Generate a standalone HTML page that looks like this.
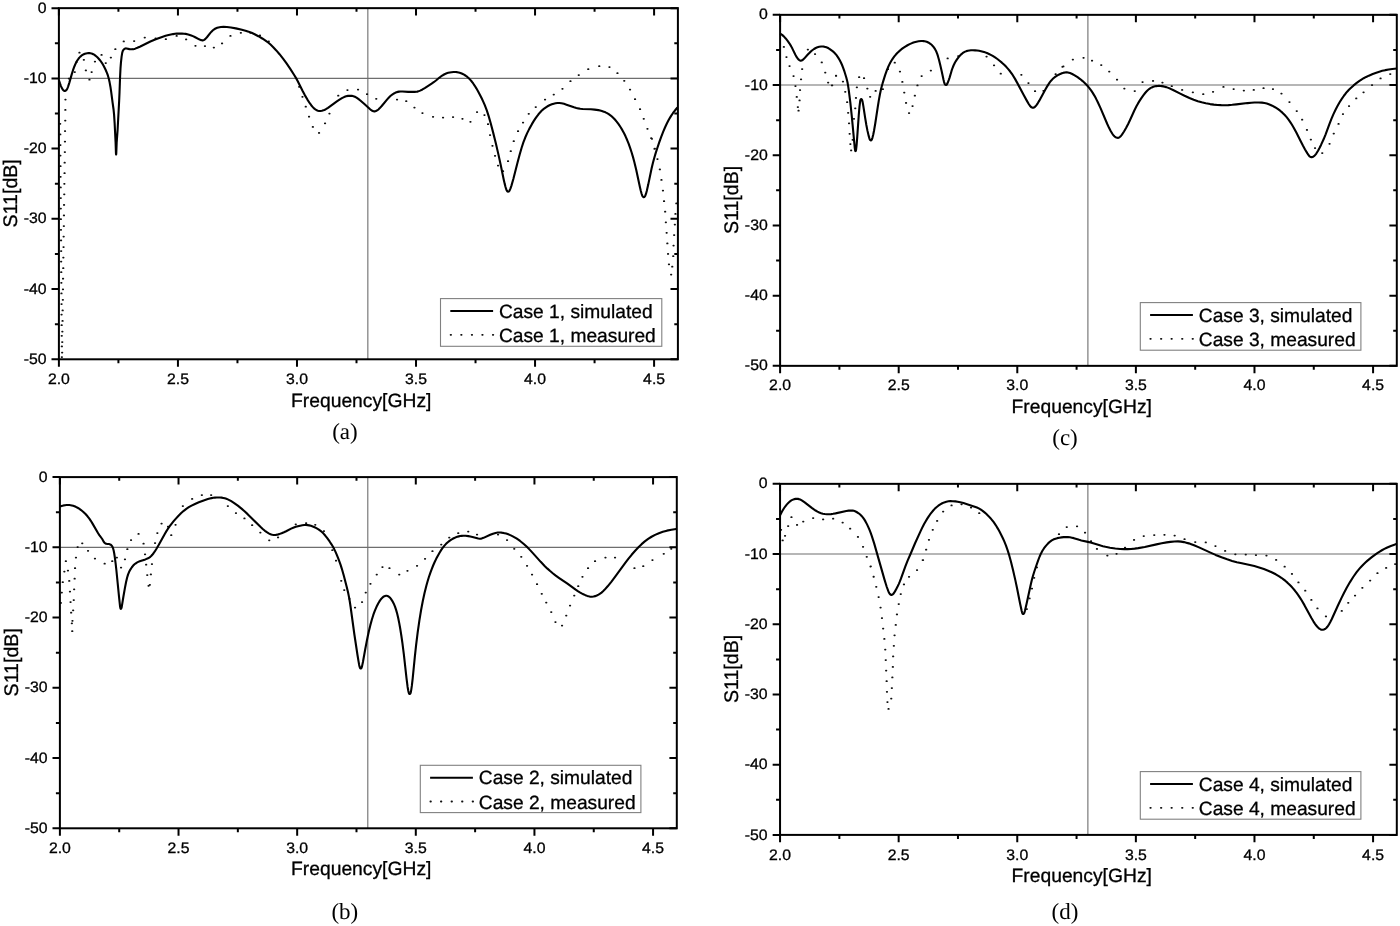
<!DOCTYPE html>
<html lang="en"><head><meta charset="utf-8"><title>S11 vs Frequency</title>
<style>html,body{margin:0;padding:0;background:#fff}svg{display:block}text{fill:#000;text-rendering:geometricPrecision}</style></head><body>
<svg width="1400" height="926" viewBox="0 0 1400 926">
<rect width="1400" height="926" fill="#fff"/>
<g id="chart-a">
<path d="M58.90 78.38H677.90M367.85 8.15V359.30" stroke="#6e6e6e" stroke-width="1.1" fill="none"/>
<path d="M58.90 8.15h-7.4M677.90 8.15h-7.4M58.90 43.27h-4.0M677.90 43.27h-3.6M58.90 78.38h-7.4M677.90 78.38h-7.4M58.90 113.50h-4.0M677.90 113.50h-3.6M58.90 148.61h-7.4M677.90 148.61h-7.4M58.90 183.73h-4.0M677.90 183.73h-3.6M58.90 218.84h-7.4M677.90 218.84h-7.4M58.90 253.96h-4.0M677.90 253.96h-3.6M58.90 289.07h-7.4M677.90 289.07h-7.4M58.90 324.19h-4.0M677.90 324.19h-3.6M58.90 359.30h-7.4M677.90 359.30h-7.4M58.90 359.30v7.4M58.90 8.15v7.4M118.42 359.30v4.0M118.42 8.15v3.6M177.94 359.30v7.4M177.94 8.15v7.4M237.46 359.30v4.0M237.46 8.15v3.6M296.98 359.30v7.4M296.98 8.15v7.4M356.50 359.30v4.0M356.50 8.15v3.6M416.02 359.30v7.4M416.02 8.15v7.4M475.53 359.30v4.0M475.53 8.15v3.6M535.05 359.30v7.4M535.05 8.15v7.4M594.57 359.30v4.0M594.57 8.15v3.6M654.09 359.30v7.4M654.09 8.15v7.4" stroke="#000" stroke-width="2" fill="none"/>
<path d="M65.2 99.6h.5M68.6 78.6h.5M74.5 72.0h.5M76.3 62.0h.5M79.2 52.7h.5M83.6 59.8h.5M85.6 70.4h.5M89.2 79.7h.5M91.4 72.0h.5M94.7 61.6h.5M101.3 54.9h.5M105.5 63.1h.5M110.6 57.6h.5M115.1 49.2h.5M123.5 41.4h.5M133.9 41.0h.5M144.5 37.6h.5M155.4 38.3h.5M165.6 39.2h.5M176.4 35.9h.5M185.9 39.4h.5M195.2 45.8h.5M204.7 46.1h.5M213.6 47.6h.5M221.8 43.4h.5M230.2 35.9h.5M240.6 32.8h.5M250.1 32.8h.5M259.7 35.4h.5M268.5 41.4h.5M298.9 86.8h.5M302.2 96.8h.5M305.5 106.7h.5M308.8 116.7h.5M312.6 126.9h.5M318.8 132.9h.5M324.8 123.3h.5M329.2 113.6h.5M338.0 95.7h.5M347.2 90.0h.5M357.8 89.5h.5M366.8 94.2h.5M376.0 98.8h.5M396.8 99.5h.5M406.0 101.2h.5M414.2 107.5h.5M422.2 113.0h.5M432.8 116.8h.5M442.8 117.5h.5M452.8 117.0h.5M462.2 118.8h.5M470.2 121.8h.5M476.8 112.0h.5M484.2 115.0h.5M487.8 124.2h.5M489.8 135.0h.5M492.2 145.8h.5M494.8 155.8h.5M497.8 165.5h.5M502.8 171.2h.5M507.8 161.2h.5M510.5 151.2h.5M513.5 141.2h.5M517.8 131.2h.5M522.8 122.5h.5M528.5 113.8h.5M535.5 107.0h.5M544.8 99.5h.5M553.5 94.5h.5M562.2 88.8h.5M570.2 81.2h.5M578.5 75.0h.5M588.0 69.2h.5M599.0 66.2h.5M609.2 67.0h.5M617.2 73.2h.5M624.0 80.8h.5M629.8 89.5h.5M634.8 99.2h.5M639.8 109.2h.5M643.5 118.8h.5M647.2 128.8h.5M651.0 138.2h.5M654.2 148.8h.5M651.7 138.8h.5M654.6 148.7h.5M657.2 159.0h.5M659.6 169.4h.5M661.2 179.9h.5M662.7 190.6h.5M663.8 201.2h.5M664.9 211.7h.5M665.6 222.3h.5M666.4 232.8h.5M667.1 243.4h.5M667.8 253.9h.5M668.7 264.3h.5M670.9 274.6h.5M672.0 266.7h.5M673.0 256.2h.5M673.3 245.6h.5M673.9 235.0h.5M674.6 224.5h.5M675.2 213.9h.5M676.1 203.4h.5M61.9 352.6h.5M62.0 342.1h.5M62.1 331.5h.5M62.3 320.9h.5M62.4 310.4h.5M62.6 299.8h.5M62.7 289.3h.5M62.8 278.7h.5M63.0 268.2h.5M63.1 257.6h.5M63.3 247.1h.5M63.4 236.5h.5M63.6 226.0h.5M63.7 215.4h.5M63.8 204.9h.5M64.0 194.3h.5M64.1 183.8h.5M64.3 173.2h.5M64.4 162.7h.5M64.6 152.1h.5M64.7 141.6h.5M64.8 131.0h.5M65.0 120.5h.5M65.1 109.9h.5M61.6 357.0h.5M61.6 346.4h.5M61.5 335.8h.5M61.4 325.2h.5M61.3 314.6h.5M61.3 304.0h.5M61.2 293.4h.5M61.1 282.8h.5M61.0 272.2h.5M60.9 261.6h.5M60.9 251.0h.5M60.8 240.4h.5M60.7 229.8h.5M60.6 219.2h.5M60.5 208.6h.5M60.5 198.0h.5M60.4 187.4h.5M60.3 176.8h.5M60.2 166.2h.5M60.1 155.6h.5M60.1 145.0h.5M60.0 134.4h.5M59.9 123.8h.5" stroke="#111" stroke-width="1.75" stroke-linecap="round" fill="none"/>
<path d="M58.86 80.00L59.98 83.42 60.96 86.05 61.85 88.07 62.68 89.48 63.49 90.38 63.96 90.71 64.46 90.90 64.97 90.95 65.30 90.88 65.78 90.66 66.20 90.30 66.69 89.67 67.09 88.96 67.60 87.84 68.17 86.33 69.22 83.09 71.64 74.63 73.00 70.23 74.36 66.47 75.80 63.17 76.64 61.58 77.57 60.04 78.49 58.73 79.37 57.64 80.35 56.64 81.41 55.73 82.56 54.94 83.79 54.27 84.90 53.82 86.05 53.48 87.23 53.25 88.23 53.16 89.43 53.16 90.42 53.27 91.40 53.48 92.34 53.79 93.25 54.20 94.11 54.70 95.10 55.39 96.19 56.27 97.37 57.35 98.50 58.49 100.44 60.77 102.04 63.07 103.74 66.01 105.61 69.77 107.03 73.08 107.95 75.72 108.82 78.80 109.61 82.32 110.37 86.45 111.15 91.59 112.63 102.89 113.52 109.23 114.06 114.40 114.63 123.18 115.59 142.36 115.96 153.29 116.03 154.30 116.11 154.60 116.21 154.10 116.28 152.99 116.70 142.06 117.57 130.50 119.17 100.54 119.52 92.55 120.09 76.36 120.51 68.17 120.96 62.39 121.60 56.62 122.17 53.06 122.47 51.89 122.80 50.94 123.27 50.06 123.90 49.29 124.67 48.72 125.38 48.47 125.94 48.41 126.52 48.44 129.46 49.13 131.25 49.30 132.25 49.27 133.24 49.16 134.21 48.94 135.16 48.64 137.40 47.76 140.33 46.48 150.39 41.56 155.15 39.46 158.51 38.16 162.10 36.92 165.54 35.85 168.63 35.03 173.13 34.09 174.91 33.83 176.70 33.65 178.90 33.57 182.10 33.60 184.10 33.70 185.68 33.89 188.22 34.45 191.26 35.44 192.93 36.11 194.75 36.95 199.17 39.31 200.26 39.84 201.01 40.12 201.78 40.31 202.36 40.37 202.94 40.33 203.50 40.20 204.20 39.88 204.84 39.42 205.44 38.89 206.93 37.24 210.18 33.17 211.48 31.65 212.90 30.25 214.17 29.29 215.03 28.77 216.11 28.25 217.23 27.83 218.38 27.49 219.55 27.22 220.94 27.01 223.53 26.86 226.93 27.00 230.90 27.49 235.81 28.38 241.87 29.72 245.55 30.66 248.60 31.63 251.58 32.79 254.66 34.24 258.36 36.21 262.69 38.72 265.54 40.57 268.11 42.48 270.53 44.57 273.26 47.22 276.26 50.43 279.54 54.21 283.05 58.57 286.37 63.07 289.96 68.37 294.49 75.45 296.23 78.37 297.77 81.17 302.65 91.03 304.80 95.10 307.41 99.59 309.92 103.45 311.22 105.22 312.36 106.62 313.45 107.79 314.64 108.87 315.77 109.68 316.82 110.26 317.94 110.68 319.11 110.93 320.50 110.98 321.89 110.79 323.42 110.35 324.89 109.72 326.30 108.95 327.99 107.88 336.86 101.37 339.52 99.59 341.92 98.15 344.06 97.07 346.12 96.30 348.07 95.86 350.06 95.72 351.85 95.85 353.41 96.20 354.91 96.76 356.50 97.60 358.31 98.84 360.33 100.48 364.39 104.05 369.86 109.04 371.26 110.19 372.28 110.83 373.38 111.25 374.35 111.37 374.93 111.33 375.50 111.20 376.42 110.84 377.45 110.21 378.39 109.46 379.56 108.35 381.71 105.98 387.21 99.36 388.69 97.74 390.11 96.33 391.31 95.28 392.59 94.31 393.94 93.45 395.18 92.81 396.47 92.28 397.81 91.88 398.99 91.63 400.38 91.47 402.57 91.46 408.16 91.84 414.56 91.88 416.56 91.76 417.34 91.62 418.30 91.36 420.15 90.62 422.48 89.46 424.74 88.17 427.44 86.45 431.62 83.71 434.07 81.98 435.96 80.51 439.49 77.55 441.24 76.22 443.09 75.02 445.03 73.99 446.69 73.29 448.21 72.81 449.77 72.45 451.55 72.18 453.54 72.02 455.54 72.02 457.13 72.16 458.70 72.47 460.43 72.98 462.28 73.75 464.05 74.67 465.74 75.74 467.33 76.95 468.82 78.29 470.34 79.87 471.77 81.55 473.20 83.47 474.77 85.79 476.34 88.35 478.02 91.30 480.00 95.00 481.81 98.57 483.35 101.83 484.69 104.95 486.70 110.18 488.58 115.87 490.64 122.98 492.98 131.88 496.00 144.11 498.46 154.63 500.56 164.20 503.75 179.67 504.60 183.38 505.39 186.48 506.19 189.22 506.74 190.55 507.05 191.04 507.41 191.42 507.82 191.64 508.11 191.68 508.54 191.58 508.96 191.29 509.33 190.88 509.66 190.37 510.43 188.67 511.45 185.61 513.41 178.68 517.67 162.02 519.68 154.48 521.63 147.76 523.37 142.44 525.14 137.76 527.05 133.36 529.27 128.88 531.87 124.15 533.51 121.40 535.13 118.87 536.73 116.58 538.30 114.51 539.85 112.67 541.36 111.07 542.96 109.57 544.51 108.30 546.30 107.03 548.02 106.00 549.98 105.01 551.83 104.25 553.74 103.66 555.50 103.28 557.49 103.04 559.28 103.02 561.47 103.26 564.00 103.85 566.48 104.64 574.02 107.30 576.32 107.97 578.28 108.40 580.25 108.71 582.64 108.95 590.83 109.29 594.62 109.59 598.38 110.15 600.14 110.53 601.88 111.00 603.77 111.63 605.44 112.32 607.05 113.12 608.76 114.14 610.39 115.30 611.94 116.57 613.40 117.94 614.91 119.53 616.84 121.83 618.75 124.40 620.63 127.23 622.37 130.15 624.07 133.32 625.64 136.56 627.16 140.04 628.71 143.95 630.20 148.09 631.64 152.46 632.95 156.87 634.26 161.69 636.26 170.05 639.95 187.26 640.78 190.77 641.52 193.48 642.18 195.44 642.74 196.50 643.10 196.89 643.50 197.11 643.78 197.16 644.19 197.05 644.45 196.88 644.82 196.49 645.39 195.43 646.01 193.67 646.76 190.96 648.12 185.11 651.63 168.27 652.89 163.02 654.24 158.00 655.60 153.40 657.25 148.26 659.31 142.20 661.20 136.93 663.23 131.70 665.10 127.28 666.96 123.30 668.91 119.58 670.94 116.13 673.05 112.97 675.10 110.26 677.46 107.54" stroke="#000" stroke-width="2.1" stroke-linejoin="round" fill="none"/>
<rect x="58.90" y="8.15" width="619.00" height="351.15" stroke="#000" stroke-width="2" fill="none"/>
<text transform="translate(46.50 12.75) scale(1.040 1)" font-family="'Liberation Sans', sans-serif" font-size="15.20" text-anchor="end" stroke="#000" stroke-width="0.3">0</text>
<text transform="translate(46.50 82.98) scale(1.040 1)" font-family="'Liberation Sans', sans-serif" font-size="15.20" text-anchor="end" stroke="#000" stroke-width="0.3">-10</text>
<text transform="translate(46.50 153.21) scale(1.040 1)" font-family="'Liberation Sans', sans-serif" font-size="15.20" text-anchor="end" stroke="#000" stroke-width="0.3">-20</text>
<text transform="translate(46.50 223.44) scale(1.040 1)" font-family="'Liberation Sans', sans-serif" font-size="15.20" text-anchor="end" stroke="#000" stroke-width="0.3">-30</text>
<text transform="translate(46.50 293.67) scale(1.040 1)" font-family="'Liberation Sans', sans-serif" font-size="15.20" text-anchor="end" stroke="#000" stroke-width="0.3">-40</text>
<text transform="translate(46.50 363.90) scale(1.040 1)" font-family="'Liberation Sans', sans-serif" font-size="15.20" text-anchor="end" stroke="#000" stroke-width="0.3">-50</text>
<text transform="translate(58.90 383.90) scale(1.040 1)" font-family="'Liberation Sans', sans-serif" font-size="15.20" text-anchor="middle" stroke="#000" stroke-width="0.3">2.0</text>
<text transform="translate(177.94 383.90) scale(1.040 1)" font-family="'Liberation Sans', sans-serif" font-size="15.20" text-anchor="middle" stroke="#000" stroke-width="0.3">2.5</text>
<text transform="translate(296.98 383.90) scale(1.040 1)" font-family="'Liberation Sans', sans-serif" font-size="15.20" text-anchor="middle" stroke="#000" stroke-width="0.3">3.0</text>
<text transform="translate(416.02 383.90) scale(1.040 1)" font-family="'Liberation Sans', sans-serif" font-size="15.20" text-anchor="middle" stroke="#000" stroke-width="0.3">3.5</text>
<text transform="translate(535.05 383.90) scale(1.040 1)" font-family="'Liberation Sans', sans-serif" font-size="15.20" text-anchor="middle" stroke="#000" stroke-width="0.3">4.0</text>
<text transform="translate(654.09 383.90) scale(1.040 1)" font-family="'Liberation Sans', sans-serif" font-size="15.20" text-anchor="middle" stroke="#000" stroke-width="0.3">4.5</text>
<text transform="translate(361.20 406.80)" font-family="'Liberation Sans', sans-serif" font-size="19.30" text-anchor="middle" stroke="#000" stroke-width="0.3">Frequency[GHz]</text>
<text transform="translate(16.90 193.32) rotate(-90)" font-family="'Liberation Sans', sans-serif" font-size="19.60" text-anchor="middle" stroke="#000" stroke-width="0.3">S11[dB]</text>
<text transform="translate(344.90 438.60)" font-family="'Liberation Serif', serif" font-size="23.00" text-anchor="middle">(a)</text>
<rect x="440.5" y="298.6" width="221.3" height="47.7" fill="#fff" stroke="#808080" stroke-width="1.1"/>
<path d="M450.3 311.0H493.1" stroke="#000" stroke-width="2" fill="none"/>
<path d="M450.6 334.8h.5M461.1 334.8h.5M471.7 334.8h.5M482.2 334.8h.5M492.8 334.8h.5" stroke="#111" stroke-width="1.8" stroke-linecap="round" fill="none"/>
<text transform="translate(499.00 317.50)" font-family="'Liberation Sans', sans-serif" font-size="19.20" text-anchor="start" stroke="#000" stroke-width="0.3">Case 1, simulated</text>
<text transform="translate(499.00 342.00)" font-family="'Liberation Sans', sans-serif" font-size="19.20" text-anchor="start" stroke="#000" stroke-width="0.3">Case 1, measured</text>
</g>
<g id="chart-b">
<path d="M59.90 547.34H676.80M367.80 477.10V828.30" stroke="#6e6e6e" stroke-width="1.1" fill="none"/>
<path d="M59.90 477.10h-7.4M676.80 477.10h-7.4M59.90 512.22h-4.0M676.80 512.22h-3.6M59.90 547.34h-7.4M676.80 547.34h-7.4M59.90 582.46h-4.0M676.80 582.46h-3.6M59.90 617.58h-7.4M676.80 617.58h-7.4M59.90 652.70h-4.0M676.80 652.70h-3.6M59.90 687.82h-7.4M676.80 687.82h-7.4M59.90 722.94h-4.0M676.80 722.94h-3.6M59.90 758.06h-7.4M676.80 758.06h-7.4M59.90 793.18h-4.0M676.80 793.18h-3.6M59.90 828.30h-7.4M676.80 828.30h-7.4M59.90 828.30v7.4M59.90 477.10v7.4M119.22 828.30v4.0M119.22 477.10v3.6M178.53 828.30v7.4M178.53 477.10v7.4M237.85 828.30v4.0M237.85 477.10v3.6M297.17 828.30v7.4M297.17 477.10v7.4M356.49 828.30v4.0M356.49 477.10v3.6M415.80 828.30v7.4M415.80 477.10v7.4M475.12 828.30v4.0M475.12 477.10v3.6M534.44 828.30v7.4M534.44 477.10v7.4M593.76 828.30v4.0M593.76 477.10v3.6M653.07 828.30v7.4M653.07 477.10v7.4" stroke="#000" stroke-width="2" fill="none"/>
<path d="M60.6 602.9h.5M61.5 592.6h.5M62.5 582.2h.5M64.1 571.6h.5M65.6 561.2h.5M67.7 570.5h.5M69.0 580.9h.5M69.7 591.5h.5M70.3 602.0h.5M70.9 612.7h.5M71.6 623.3h.5M72.0 631.2h.5M72.2 620.8h.5M72.9 610.3h.5M73.5 600.0h.5M73.9 589.3h.5M74.4 578.7h.5M74.8 568.2h.5M75.7 557.6h.5M77.4 547.0h.5M82.0 543.3h.5M87.8 550.8h.5M94.7 558.6h.5M104.4 563.7h.5M112.0 561.2h.5M116.6 557.6h.5M120.8 567.6h.5M124.7 559.3h.5M127.1 549.2h.5M130.8 540.1h.5M138.3 533.9h.5M143.3 543.7h.5M144.8 554.3h.5M145.9 564.7h.5M147.0 575.1h.5M148.3 585.8h.5M149.6 584.8h.5M150.6 574.4h.5M151.7 564.1h.5M154.8 543.1h.5M157.1 533.0h.5M161.3 523.6h.5M167.8 526.7h.5M171.0 535.2h.5M175.3 524.8h.5M182.6 506.0h.5M191.9 498.9h.5M201.6 495.1h.5M210.9 495.1h.5M227.6 506.0h.5M235.7 513.0h.5M244.2 518.4h.5M251.9 525.2h.5M260.1 532.5h.5M269.0 540.3h.5M277.8 537.4h.5M295.5 524.3h.5M305.9 523.2h.5M315.0 524.8h.5M323.7 531.0h.5M332.1 550.2h.5M335.8 560.7h.5M341.0 580.8h.5M344.0 590.0h.5M349.2 598.8h.5M354.8 607.5h.5M361.8 602.0h.5M365.5 592.5h.5M370.2 583.8h.5M376.5 574.5h.5M382.2 567.0h.5M389.2 568.2h.5M399.0 574.5h.5M407.2 570.8h.5M416.8 565.8h.5M424.8 558.8h.5M432.2 551.2h.5M441.0 544.5h.5M449.0 537.5h.5M458.0 533.2h.5M468.0 531.5h.5M476.8 534.5h.5M497.8 534.5h.5M506.8 540.0h.5M514.0 548.8h.5M521.0 556.8h.5M526.8 565.8h.5M531.8 574.5h.5M536.8 584.2h.5M541.5 593.8h.5M546.0 602.5h.5M551.0 612.0h.5M555.2 622.0h.5M561.8 625.5h.5M566.0 615.5h.5M569.8 605.5h.5M574.0 595.5h.5M578.0 586.2h.5M582.2 576.8h.5M587.8 568.2h.5M594.8 561.2h.5M605.2 557.5h.5M614.8 557.5h.5M634.2 568.2h.5M643.0 566.2h.5M652.2 560.0h.5M663.5 553.8h.5M671.0 548.8h.5" stroke="#111" stroke-width="1.75" stroke-linecap="round" fill="none"/>
<path d="M59.86 506.57L62.51 505.69 63.68 505.41 65.06 505.18 66.45 505.05 68.05 504.99 69.45 505.05 70.64 505.19 71.82 505.43 73.16 505.81 74.48 506.27 75.77 506.82 77.02 507.45 78.41 508.24 79.76 509.11 81.05 510.05 83.37 511.96 85.53 514.04 87.52 516.28 89.35 518.66 90.81 520.81 92.39 523.36 98.11 533.22 99.33 535.05 102.05 538.75 102.78 539.95 103.83 541.90 104.40 542.70 105.12 543.31 106.00 543.68 106.77 543.84 108.98 544.06 110.11 544.40 110.62 544.68 111.24 545.16 111.78 545.74 112.23 546.40 112.60 547.10 112.98 548.03 113.58 550.16 114.24 553.49 114.93 558.04 115.64 563.60 116.44 570.75 119.04 596.82 120.00 605.82 120.17 607.08 120.37 608.05 120.60 608.62 120.73 608.78 120.87 608.84 121.09 608.73 121.30 608.41 121.54 607.74 121.74 606.94 123.38 596.76 124.94 587.90 126.08 582.01 127.08 577.72 128.00 574.66 129.04 572.06 130.34 569.58 131.87 567.24 132.99 565.83 134.24 564.53 135.47 563.51 136.80 562.64 138.22 561.90 139.70 561.28 145.39 559.38 147.44 558.57 148.51 558.03 149.52 557.39 150.31 556.79 151.20 555.98 152.29 554.81 153.53 553.24 154.79 551.44 156.19 549.24 158.81 544.75 164.91 533.73 166.43 531.14 167.82 528.95 169.52 526.47 171.32 524.07 173.45 521.42 175.67 518.85 178.52 515.77 181.22 513.09 183.76 510.83 186.29 508.87 188.79 507.21 191.57 505.63 194.98 503.96 198.83 502.28 203.68 500.41 207.86 499.04 209.79 498.52 211.55 498.12 213.32 497.81 214.91 497.61 216.70 497.47 218.50 497.43 220.10 497.48 221.69 497.64 223.27 497.91 224.82 498.30 226.34 498.79 227.83 499.39 229.27 500.08 230.86 500.93 234.24 503.05 237.80 505.64 241.53 508.66 244.54 511.29 247.63 514.14 251.22 517.63 260.42 526.81 262.76 528.99 264.90 530.80 266.83 532.22 268.71 533.37 270.52 534.21 272.24 534.75 273.81 534.97 275.41 534.94 277.18 534.65 279.12 534.13 281.57 533.27 283.97 532.26 286.13 531.22 291.11 528.66 293.86 527.46 295.75 526.80 297.86 526.21 300.20 525.67 302.37 525.27 304.16 525.06 305.95 525.01 307.55 525.12 309.13 525.38 310.87 525.82 312.76 526.47 314.60 527.26 316.39 528.15 318.46 529.36 320.27 530.61 321.97 532.01 323.53 533.56 325.22 535.53 327.06 537.90 329.61 541.48 331.49 544.32 332.82 546.55 334.06 548.84 335.28 551.36 336.50 554.10 337.93 557.62 339.34 561.36 340.61 564.94 341.78 568.56 343.84 575.67 346.68 586.71 348.08 592.54 349.12 597.64 349.83 601.78 350.58 606.72 354.35 634.26 357.53 655.22 358.45 660.95 359.17 664.90 359.65 666.94 360.09 668.01 360.37 668.36 360.58 668.49 360.79 668.53 361.11 668.39 361.31 668.19 361.57 667.75 362.03 666.40 362.94 662.01 365.09 650.00 366.53 642.33 367.72 636.45 368.92 630.98 370.34 625.15 371.82 619.75 373.31 614.98 374.88 610.66 376.52 606.79 378.33 603.23 379.25 601.67 380.12 600.34 380.96 599.21 381.87 598.14 382.74 597.31 383.53 596.69 384.40 596.21 385.15 595.94 385.92 595.80 386.70 595.82 387.47 596.00 388.19 596.31 388.87 596.73 389.64 597.38 390.33 598.10 390.96 598.89 392.39 601.06 393.78 603.72 395.01 606.67 396.10 609.89 397.14 613.55 398.15 617.83 399.24 623.12 400.29 629.03 401.36 635.74 402.42 643.07 403.85 654.37 406.49 678.23 407.61 686.96 408.22 690.53 408.69 692.57 409.14 693.60 409.43 693.91 409.73 694.02 410.03 693.89 410.31 693.57 410.54 693.09 410.78 692.32 411.25 689.87 411.86 685.70 412.75 677.95 414.80 657.05 416.07 645.32 417.65 632.62 419.40 620.34 421.05 610.28 422.75 601.23 424.53 593.02 426.42 585.46 427.61 581.22 428.90 577.02 430.24 573.04 431.62 569.28 433.04 565.75 434.56 562.27 436.20 558.85 437.86 555.65 439.54 552.70 441.13 550.15 442.84 547.69 444.45 545.64 446.05 543.86 447.79 542.20 449.50 540.82 451.32 539.59 452.70 538.79 454.31 537.98 455.79 537.35 457.29 536.81 458.83 536.37 460.20 536.08 461.78 535.85 463.18 535.76 465.57 535.82 468.35 536.14 470.32 536.51 472.47 536.99 478.27 538.54 479.65 538.71 481.03 538.62 482.19 538.34 483.51 537.86 490.26 534.82 493.04 533.69 495.52 532.92 496.70 532.68 497.69 532.56 498.89 532.50 500.28 532.54 501.68 532.67 503.26 532.91 504.63 533.19 506.18 533.60 509.01 534.60 510.84 535.40 512.82 536.36 514.57 537.32 516.46 538.46 518.29 539.68 520.07 540.97 521.95 542.45 523.78 544.00 526.87 546.85 530.11 550.12 533.10 553.35 540.71 561.84 544.87 566.16 547.46 568.65 550.14 571.06 552.75 573.24 555.43 575.33 558.84 577.78 567.08 583.45 575.65 589.69 577.80 591.14 579.84 592.41 581.59 593.38 583.38 594.27 585.39 595.16 587.26 595.89 588.59 596.32 589.76 596.59 590.75 596.71 591.94 596.73 593.53 596.53 595.08 596.14 596.77 595.52 598.56 594.64 600.09 593.69 601.53 592.60 603.03 591.28 604.74 589.60 607.66 586.31 611.29 581.79 614.66 577.32 625.08 563.13 628.49 558.69 631.63 554.79 635.15 550.71 638.44 547.21 641.61 544.15 644.79 541.42 648.16 538.91 651.53 536.76 655.06 534.87 658.90 533.17 662.85 531.77 666.90 530.64 671.40 529.71 676.15 529.01" stroke="#000" stroke-width="2.1" stroke-linejoin="round" fill="none"/>
<rect x="59.90" y="477.10" width="616.90" height="351.20" stroke="#000" stroke-width="2" fill="none"/>
<text transform="translate(47.50 481.70) scale(1.040 1)" font-family="'Liberation Sans', sans-serif" font-size="15.20" text-anchor="end" stroke="#000" stroke-width="0.3">0</text>
<text transform="translate(47.50 551.94) scale(1.040 1)" font-family="'Liberation Sans', sans-serif" font-size="15.20" text-anchor="end" stroke="#000" stroke-width="0.3">-10</text>
<text transform="translate(47.50 622.18) scale(1.040 1)" font-family="'Liberation Sans', sans-serif" font-size="15.20" text-anchor="end" stroke="#000" stroke-width="0.3">-20</text>
<text transform="translate(47.50 692.42) scale(1.040 1)" font-family="'Liberation Sans', sans-serif" font-size="15.20" text-anchor="end" stroke="#000" stroke-width="0.3">-30</text>
<text transform="translate(47.50 762.66) scale(1.040 1)" font-family="'Liberation Sans', sans-serif" font-size="15.20" text-anchor="end" stroke="#000" stroke-width="0.3">-40</text>
<text transform="translate(47.50 832.90) scale(1.040 1)" font-family="'Liberation Sans', sans-serif" font-size="15.20" text-anchor="end" stroke="#000" stroke-width="0.3">-50</text>
<text transform="translate(59.90 852.90) scale(1.040 1)" font-family="'Liberation Sans', sans-serif" font-size="15.20" text-anchor="middle" stroke="#000" stroke-width="0.3">2.0</text>
<text transform="translate(178.53 852.90) scale(1.040 1)" font-family="'Liberation Sans', sans-serif" font-size="15.20" text-anchor="middle" stroke="#000" stroke-width="0.3">2.5</text>
<text transform="translate(297.17 852.90) scale(1.040 1)" font-family="'Liberation Sans', sans-serif" font-size="15.20" text-anchor="middle" stroke="#000" stroke-width="0.3">3.0</text>
<text transform="translate(415.80 852.90) scale(1.040 1)" font-family="'Liberation Sans', sans-serif" font-size="15.20" text-anchor="middle" stroke="#000" stroke-width="0.3">3.5</text>
<text transform="translate(534.44 852.90) scale(1.040 1)" font-family="'Liberation Sans', sans-serif" font-size="15.20" text-anchor="middle" stroke="#000" stroke-width="0.3">4.0</text>
<text transform="translate(653.07 852.90) scale(1.040 1)" font-family="'Liberation Sans', sans-serif" font-size="15.20" text-anchor="middle" stroke="#000" stroke-width="0.3">4.5</text>
<text transform="translate(361.20 875.30)" font-family="'Liberation Sans', sans-serif" font-size="19.30" text-anchor="middle" stroke="#000" stroke-width="0.3">Frequency[GHz]</text>
<text transform="translate(17.90 662.30) rotate(-90)" font-family="'Liberation Sans', sans-serif" font-size="19.60" text-anchor="middle" stroke="#000" stroke-width="0.3">S11[dB]</text>
<text transform="translate(344.80 918.90)" font-family="'Liberation Serif', serif" font-size="23.00" text-anchor="middle">(b)</text>
<rect x="420.3" y="765.3" width="220.6" height="47.3" fill="#fff" stroke="#808080" stroke-width="1.1"/>
<path d="M430.1 777.7H472.9" stroke="#000" stroke-width="2" fill="none"/>
<path d="M430.4 801.5h.5M440.9 801.5h.5M451.5 801.5h.5M462.0 801.5h.5M472.6 801.5h.5" stroke="#111" stroke-width="1.8" stroke-linecap="round" fill="none"/>
<text transform="translate(478.80 784.20)" font-family="'Liberation Sans', sans-serif" font-size="19.20" text-anchor="start" stroke="#000" stroke-width="0.3">Case 2, simulated</text>
<text transform="translate(478.80 808.70)" font-family="'Liberation Sans', sans-serif" font-size="19.20" text-anchor="start" stroke="#000" stroke-width="0.3">Case 2, measured</text>
</g>
<g id="chart-c">
<path d="M780.10 85.05H1396.80M1087.90 14.85V365.85" stroke="#6e6e6e" stroke-width="1.1" fill="none"/>
<path d="M780.10 14.85h-7.4M1396.80 14.85h-7.4M780.10 49.95h-4.0M1396.80 49.95h-3.6M780.10 85.05h-7.4M1396.80 85.05h-7.4M780.10 120.15h-4.0M1396.80 120.15h-3.6M780.10 155.25h-7.4M1396.80 155.25h-7.4M780.10 190.35h-4.0M1396.80 190.35h-3.6M780.10 225.45h-7.4M1396.80 225.45h-7.4M780.10 260.55h-4.0M1396.80 260.55h-3.6M780.10 295.65h-7.4M1396.80 295.65h-7.4M780.10 330.75h-4.0M1396.80 330.75h-3.6M780.10 365.85h-7.4M1396.80 365.85h-7.4M780.10 365.85v7.4M780.10 14.85v7.4M839.40 365.85v4.0M839.40 14.85v3.6M898.70 365.85v7.4M898.70 14.85v7.4M957.99 365.85v4.0M957.99 14.85v3.6M1017.29 365.85v7.4M1017.29 14.85v7.4M1076.59 365.85v4.0M1076.59 14.85v3.6M1135.89 365.85v7.4M1135.89 14.85v7.4M1195.19 365.85v4.0M1195.19 14.85v3.6M1254.48 365.85v7.4M1254.48 14.85v7.4M1313.78 365.85v4.0M1313.78 14.85v3.6M1373.08 365.85v7.4M1373.08 14.85v7.4" stroke="#000" stroke-width="2" fill="none"/>
<path d="M783.6 46.9h.5M786.2 57.1h.5M789.3 66.0h.5M793.3 76.0h.5M795.2 86.1h.5M796.5 96.9h.5M797.6 107.1h.5M798.3 110.7h.5M799.3 100.4h.5M799.8 90.0h.5M800.8 79.3h.5M801.9 69.0h.5M807.6 49.6h.5M814.8 54.0h.5M821.5 62.4h.5M825.0 72.6h.5M827.9 82.6h.5M831.9 85.4h.5M835.8 75.7h.5M831.7 85.4h.5M835.8 75.9h.5M842.7 81.5h.5M845.0 91.8h.5M846.9 102.2h.5M847.9 112.8h.5M848.8 123.3h.5M849.4 133.8h.5M850.1 144.1h.5M850.9 150.4h.5M852.4 139.8h.5M853.7 118.8h.5M855.0 108.3h.5M855.7 97.9h.5M856.6 87.3h.5M858.9 77.2h.5M863.8 78.2h.5M867.1 88.6h.5M869.9 96.8h.5M875.4 90.9h.5M882.6 89.2h.5M887.7 69.2h.5M894.5 62.7h.5M899.7 71.5h.5M902.1 81.9h.5M904.0 92.5h.5M905.8 102.9h.5M908.8 113.0h.5M912.3 106.1h.5M914.6 95.7h.5M917.2 85.4h.5M921.4 76.0h.5M930.6 70.5h.5M947.4 58.4h.5M958.0 56.0h.5M986.3 56.5h.5M993.8 65.3h.5M1000.5 73.7h.5M1021.1 74.8h.5M1028.2 83.0h.5M1034.8 91.2h.5M1043.2 90.8h.5M1055.4 74.2h.5M1063.1 66.4h.5M1062.2 66.8h.5M1072.6 59.5h.5M1083.3 57.8h.5M1091.8 60.7h.5M1101.0 65.1h.5M1109.0 71.6h.5M1116.8 79.7h.5M1124.1 88.6h.5M1134.5 91.1h.5M1142.3 82.1h.5M1152.8 80.9h.5M1162.2 82.6h.5M1171.5 86.2h.5M1181.9 89.9h.5M1192.6 92.3h.5M1203.0 94.2h.5M1212.8 91.8h.5M1223.2 86.9h.5M1233.4 89.1h.5M1243.6 90.6h.5M1253.5 89.9h.5M1263.3 88.2h.5M1272.7 89.1h.5M1281.2 93.5h.5M1289.2 102.0h.5M1296.5 111.0h.5M1301.9 119.7h.5M1306.7 129.9h.5M1310.6 139.6h.5M1314.8 148.1h.5M1322.0 153.0h.5M1329.3 143.8h.5M1333.5 133.6h.5M1338.3 123.9h.5M1342.7 114.1h.5M1348.8 106.1h.5M1356.0 98.4h.5M1363.3 92.3h.5M1371.8 85.0h.5M1380.3 78.4h.5M1390.0 74.1h.5" stroke="#111" stroke-width="1.75" stroke-linecap="round" fill="none"/>
<path d="M780.14 33.61L782.15 34.91 783.80 36.36 785.70 38.42 787.80 41.09 789.51 43.55 791.06 46.12 792.37 48.60 795.37 54.70 796.74 57.14 797.65 58.47 798.44 59.40 799.19 60.07 799.86 60.46 800.57 60.66 801.31 60.63 802.20 60.30 803.02 59.73 804.18 58.60 807.79 54.56 809.87 52.40 811.95 50.52 814.03 48.97 815.76 47.97 817.42 47.28 819.16 46.80 821.14 46.51 822.13 46.47 823.13 46.52 824.12 46.66 825.28 46.94 826.42 47.31 827.53 47.77 828.60 48.31 829.80 49.03 832.22 50.80 833.44 51.84 834.60 52.95 836.32 54.89 838.05 57.34 839.50 59.74 840.80 62.22 841.96 64.76 843.07 67.55 844.51 71.71 846.22 77.25 847.00 80.15 847.63 83.08 848.19 86.43 848.88 91.18 850.35 102.69 851.90 117.41 854.79 148.12 855.12 150.35 855.32 150.90 855.43 151.05 855.55 151.09 855.67 151.02 855.83 150.74 856.09 149.71 856.62 144.81 857.26 136.63 858.75 115.28 859.46 106.91 860.15 101.27 860.42 100.07 860.70 99.43 860.96 99.14 861.16 99.06 861.36 99.09 861.66 99.31 861.93 99.71 862.16 100.23 862.56 101.64 863.31 105.83 865.16 117.89 866.35 124.99 867.50 130.88 868.76 136.14 869.43 138.53 869.73 139.30 870.01 139.80 870.32 140.18 870.67 140.38 871.04 140.37 871.39 140.14 871.70 139.75 871.97 139.24 872.44 137.86 873.21 134.70 874.01 130.78 875.29 123.28 877.74 107.07 878.82 100.36 879.89 94.45 880.94 89.56 881.72 86.46 882.63 83.18 885.11 75.16 887.06 69.70 888.05 67.29 889.04 65.11 890.22 62.79 891.51 60.54 892.93 58.35 894.34 56.42 895.87 54.57 897.51 52.81 899.24 51.15 901.21 49.46 903.28 47.89 905.28 46.55 907.52 45.23 909.65 44.14 912.04 43.11 914.30 42.31 916.42 41.72 918.58 41.30 921.17 41.05 922.37 41.04 923.57 41.12 924.75 41.29 925.73 41.51 926.68 41.80 927.79 42.25 928.69 42.70 929.71 43.32 930.68 44.03 931.59 44.82 932.43 45.67 933.35 46.72 934.20 47.84 934.86 48.84 935.74 50.41 936.50 52.04 937.22 53.91 937.96 56.19 939.03 60.04 940.31 65.29 941.69 71.33 943.46 79.55 944.08 82.11 944.45 83.30 944.79 84.05 945.21 84.64 945.71 84.96 945.98 84.99 946.24 84.92 946.74 84.54 947.17 83.92 947.70 82.79 948.72 80.12 949.51 77.85 951.54 70.95 952.42 68.29 953.53 65.50 954.87 62.82 955.87 61.09 956.96 59.41 958.13 57.79 959.26 56.39 960.33 55.20 961.49 54.09 962.57 53.20 963.72 52.41 965.13 51.65 966.43 51.13 967.77 50.74 969.34 50.45 970.93 50.31 972.93 50.26 975.13 50.35 977.12 50.53 979.10 50.82 981.06 51.22 983.00 51.71 985.10 52.37 986.97 53.08 988.99 53.95 990.78 54.84 992.71 55.90 995.08 57.38 997.38 58.99 999.59 60.71 1001.87 62.65 1004.21 64.83 1006.46 67.11 1008.46 69.34 1010.22 71.52 1012.65 74.95 1015.04 78.88 1016.97 82.38 1023.43 94.57 1026.92 100.87 1028.73 103.99 1029.74 105.50 1030.64 106.59 1031.57 107.34 1032.45 107.68 1032.82 107.72 1033.37 107.67 1033.91 107.50 1034.43 107.23 1034.91 106.88 1035.50 106.32 1036.65 104.91 1037.87 103.07 1039.30 100.66 1045.51 89.24 1047.01 86.64 1048.26 84.59 1049.73 82.44 1051.08 80.71 1052.56 79.09 1054.04 77.74 1055.13 76.87 1056.28 76.07 1058.71 74.68 1060.34 73.91 1061.82 73.29 1062.95 72.90 1064.11 72.60 1065.10 72.44 1065.89 72.39 1066.89 72.41 1067.88 72.54 1068.86 72.75 1070.01 73.09 1072.22 74.02 1074.69 75.35 1077.56 77.17 1080.15 79.05 1082.62 81.07 1084.98 83.24 1087.21 85.53 1089.16 87.81 1091.08 90.37 1092.74 92.87 1094.38 95.61 1096.01 98.60 1097.71 102.00 1100.53 108.18 1107.27 124.01 1109.04 127.82 1110.69 131.02 1112.34 133.76 1113.15 134.91 1113.93 135.83 1114.65 136.53 1115.45 137.15 1116.33 137.61 1117.08 137.82 1117.84 137.86 1118.59 137.71 1119.29 137.38 1120.08 136.78 1120.92 135.90 1121.80 134.79 1124.03 131.47 1126.04 128.01 1128.15 123.93 1130.04 119.95 1134.34 110.48 1136.57 106.01 1138.04 103.39 1139.71 100.67 1141.70 97.67 1143.67 94.89 1145.13 92.99 1146.44 91.48 1147.71 90.20 1149.09 89.05 1150.42 88.16 1151.83 87.41 1153.31 86.81 1155.04 86.32 1156.22 86.10 1157.61 85.95 1159.01 85.90 1160.41 85.95 1161.80 86.10 1163.38 86.36 1164.74 86.68 1166.28 87.13 1168.35 87.88 1170.55 88.83 1173.07 90.05 1180.21 93.66 1184.53 95.75 1189.45 97.98 1193.70 99.73 1197.84 101.22 1201.68 102.35 1205.77 103.31 1210.10 104.09 1213.86 104.59 1217.45 104.93 1221.24 105.13 1225.04 105.18 1228.44 105.08 1232.23 104.81 1236.41 104.38 1247.53 103.08 1251.32 102.74 1254.51 102.55 1258.51 102.49 1261.91 102.63 1264.48 102.97 1266.81 103.53 1269.45 104.46 1272.19 105.69 1275.01 107.21 1277.71 108.92 1280.11 110.71 1282.39 112.67 1284.52 114.78 1286.64 117.17 1288.37 119.37 1290.11 121.82 1291.84 124.51 1293.58 127.43 1296.34 132.53 1300.97 141.84 1302.90 145.58 1305.03 149.43 1307.39 153.38 1308.61 155.23 1309.54 156.30 1310.00 156.66 1310.50 156.94 1311.04 157.12 1311.41 157.17 1312.16 157.11 1313.08 156.77 1313.93 156.23 1314.68 155.56 1315.48 154.66 1316.31 153.52 1318.17 150.44 1319.50 147.97 1321.02 144.93 1323.61 139.30 1325.63 134.29 1329.59 123.60 1331.33 119.12 1333.46 114.16 1335.79 109.29 1337.37 106.28 1339.03 103.32 1340.68 100.57 1342.31 98.05 1343.91 95.76 1345.61 93.53 1347.15 91.69 1348.91 89.78 1351.06 87.69 1353.60 85.43 1356.38 83.14 1359.10 81.10 1361.43 79.54 1363.66 78.22 1366.15 76.93 1368.87 75.66 1372.74 74.03 1376.29 72.68 1379.32 71.66 1382.21 70.85 1385.33 70.15 1388.68 69.56 1392.25 69.07 1397.02 68.55" stroke="#000" stroke-width="2.1" stroke-linejoin="round" fill="none"/>
<rect x="780.10" y="14.85" width="616.70" height="351.00" stroke="#000" stroke-width="2" fill="none"/>
<text transform="translate(767.70 19.45) scale(1.040 1)" font-family="'Liberation Sans', sans-serif" font-size="15.20" text-anchor="end" stroke="#000" stroke-width="0.3">0</text>
<text transform="translate(767.70 89.65) scale(1.040 1)" font-family="'Liberation Sans', sans-serif" font-size="15.20" text-anchor="end" stroke="#000" stroke-width="0.3">-10</text>
<text transform="translate(767.70 159.85) scale(1.040 1)" font-family="'Liberation Sans', sans-serif" font-size="15.20" text-anchor="end" stroke="#000" stroke-width="0.3">-20</text>
<text transform="translate(767.70 230.05) scale(1.040 1)" font-family="'Liberation Sans', sans-serif" font-size="15.20" text-anchor="end" stroke="#000" stroke-width="0.3">-30</text>
<text transform="translate(767.70 300.25) scale(1.040 1)" font-family="'Liberation Sans', sans-serif" font-size="15.20" text-anchor="end" stroke="#000" stroke-width="0.3">-40</text>
<text transform="translate(767.70 370.45) scale(1.040 1)" font-family="'Liberation Sans', sans-serif" font-size="15.20" text-anchor="end" stroke="#000" stroke-width="0.3">-50</text>
<text transform="translate(780.10 390.45) scale(1.040 1)" font-family="'Liberation Sans', sans-serif" font-size="15.20" text-anchor="middle" stroke="#000" stroke-width="0.3">2.0</text>
<text transform="translate(898.70 390.45) scale(1.040 1)" font-family="'Liberation Sans', sans-serif" font-size="15.20" text-anchor="middle" stroke="#000" stroke-width="0.3">2.5</text>
<text transform="translate(1017.29 390.45) scale(1.040 1)" font-family="'Liberation Sans', sans-serif" font-size="15.20" text-anchor="middle" stroke="#000" stroke-width="0.3">3.0</text>
<text transform="translate(1135.89 390.45) scale(1.040 1)" font-family="'Liberation Sans', sans-serif" font-size="15.20" text-anchor="middle" stroke="#000" stroke-width="0.3">3.5</text>
<text transform="translate(1254.48 390.45) scale(1.040 1)" font-family="'Liberation Sans', sans-serif" font-size="15.20" text-anchor="middle" stroke="#000" stroke-width="0.3">4.0</text>
<text transform="translate(1373.08 390.45) scale(1.040 1)" font-family="'Liberation Sans', sans-serif" font-size="15.20" text-anchor="middle" stroke="#000" stroke-width="0.3">4.5</text>
<text transform="translate(1081.70 412.90)" font-family="'Liberation Sans', sans-serif" font-size="19.30" text-anchor="middle" stroke="#000" stroke-width="0.3">Frequency[GHz]</text>
<text transform="translate(738.10 199.95) rotate(-90)" font-family="'Liberation Sans', sans-serif" font-size="19.60" text-anchor="middle" stroke="#000" stroke-width="0.3">S11[dB]</text>
<text transform="translate(1065.00 445.00)" font-family="'Liberation Serif', serif" font-size="23.00" text-anchor="middle">(c)</text>
<rect x="1140.3" y="302.6" width="220.6" height="47.6" fill="#fff" stroke="#808080" stroke-width="1.1"/>
<path d="M1150.1 315.0H1192.9" stroke="#000" stroke-width="2" fill="none"/>
<path d="M1150.3 338.8h.5M1160.9 338.8h.5M1171.4 338.8h.5M1182.0 338.8h.5M1192.5 338.8h.5" stroke="#111" stroke-width="1.8" stroke-linecap="round" fill="none"/>
<text transform="translate(1198.80 321.50)" font-family="'Liberation Sans', sans-serif" font-size="19.20" text-anchor="start" stroke="#000" stroke-width="0.3">Case 3, simulated</text>
<text transform="translate(1198.80 346.00)" font-family="'Liberation Sans', sans-serif" font-size="19.20" text-anchor="start" stroke="#000" stroke-width="0.3">Case 3, measured</text>
</g>
<g id="chart-d">
<path d="M780.05 554.06H1396.80M1087.88 483.85V834.90" stroke="#6e6e6e" stroke-width="1.1" fill="none"/>
<path d="M780.05 483.85h-7.4M1396.80 483.85h-7.4M780.05 518.96h-4.0M1396.80 518.96h-3.6M780.05 554.06h-7.4M1396.80 554.06h-7.4M780.05 589.16h-4.0M1396.80 589.16h-3.6M780.05 624.27h-7.4M1396.80 624.27h-7.4M780.05 659.38h-4.0M1396.80 659.38h-3.6M780.05 694.48h-7.4M1396.80 694.48h-7.4M780.05 729.59h-4.0M1396.80 729.59h-3.6M780.05 764.69h-7.4M1396.80 764.69h-7.4M780.05 799.80h-4.0M1396.80 799.80h-3.6M780.05 834.90h-7.4M1396.80 834.90h-7.4M780.05 834.90v7.4M780.05 483.85v7.4M839.35 834.90v4.0M839.35 483.85v3.6M898.66 834.90v7.4M898.66 483.85v7.4M957.96 834.90v4.0M957.96 483.85v3.6M1017.26 834.90v7.4M1017.26 483.85v7.4M1076.56 834.90v4.0M1076.56 483.85v3.6M1135.87 834.90v7.4M1135.87 483.85v7.4M1195.17 834.90v4.0M1195.17 483.85v3.6M1254.47 834.90v7.4M1254.47 483.85v7.4M1313.78 834.90v4.0M1313.78 483.85v3.6M1373.08 834.90v7.4M1373.08 483.85v7.4" stroke="#000" stroke-width="2" fill="none"/>
<path d="M780.8 529.8h.5M782.4 540.4h.5M784.8 535.8h.5M787.9 526.0h.5M791.2 517.2h.5M796.8 524.9h.5M803.0 521.6h.5M812.9 518.0h.5M822.9 519.4h.5M832.9 518.7h.5M842.4 522.5h.5M849.9 528.7h.5M857.7 536.9h.5M862.8 546.8h.5M866.5 556.8h.5M870.5 566.3h.5M873.4 576.7h.5M922.5 560.1h.5M925.9 549.7h.5M928.7 539.8h.5M932.5 529.8h.5M936.9 520.9h.5M942.9 511.6h.5M951.3 505.4h.5M961.3 504.3h.5M970.8 507.6h.5M979.0 513.2h.5M1026.6 609.1h.5M1029.3 598.4h.5M1031.7 588.5h.5M1033.9 577.8h.5M1036.6 567.4h.5M1058.7 534.2h.5M870.3 566.6h.5M873.4 576.8h.5M876.0 586.8h.5M878.4 597.0h.5M880.3 607.5h.5M881.7 618.0h.5M882.9 628.6h.5M884.1 638.9h.5M885.0 649.5h.5M885.5 660.0h.5M885.9 670.5h.5M886.4 681.2h.5M886.7 691.8h.5M887.2 702.1h.5M888.3 708.9h.5M891.0 698.5h.5M891.6 688.0h.5M892.1 677.4h.5M892.6 666.9h.5M892.9 656.4h.5M893.6 645.8h.5M894.3 635.3h.5M895.5 624.9h.5M896.7 614.4h.5M898.5 604.0h.5M900.5 594.0h.5M903.7 584.4h.5M908.8 576.8h.5M916.8 570.0h.5M922.8 560.0h.5M1066.5 527.1h.5M1076.8 526.3h.5M1084.8 532.7h.5M1090.8 541.2h.5M1096.7 548.9h.5M1107.1 555.5h.5M1116.3 553.8h.5M1124.8 547.7h.5M1133.8 539.9h.5M1143.5 536.1h.5M1154.0 535.1h.5M1164.2 534.8h.5M1174.4 535.6h.5M1184.3 539.2h.5M1195.0 542.1h.5M1205.5 542.4h.5M1215.2 546.0h.5M1224.9 550.9h.5M1235.1 554.3h.5M1245.5 554.5h.5M1255.7 555.0h.5M1266.2 555.5h.5M1275.9 559.9h.5M1284.4 566.7h.5M1291.7 573.9h.5M1298.2 582.4h.5M1305.0 590.7h.5M1311.1 599.9h.5M1317.2 608.4h.5M1325.7 616.4h.5M1341.5 610.9h.5M1348.0 602.8h.5M1354.8 595.6h.5M1362.1 587.8h.5M1369.9 580.5h.5M1377.2 573.2h.5M1385.9 567.9h.5M1394.9 564.0h.5" stroke="#111" stroke-width="1.75" stroke-linecap="round" fill="none"/>
<path d="M779.96 515.39L782.00 511.50 783.98 508.25 785.01 506.77 786.10 505.34 787.13 504.12 788.23 502.96 789.26 502.00 790.35 501.12 791.34 500.45 792.39 499.87 793.49 499.40 794.45 499.11 795.63 498.87 796.62 498.80 797.81 498.86 798.98 499.11 800.10 499.53 801.35 500.16 802.89 501.11 804.69 502.37 812.12 508.12 813.91 509.41 815.58 510.51 817.48 511.62 819.27 512.50 821.14 513.22 822.87 513.71 824.83 514.07 826.82 514.26 828.82 514.27 831.02 514.11 833.19 513.80 835.55 513.36 846.30 510.99 848.67 510.66 851.07 510.52 852.86 510.62 853.64 510.78 854.59 511.07 855.52 511.45 856.59 511.99 858.62 513.27 860.18 514.52 861.60 515.93 863.01 517.62 864.27 519.42 865.62 521.64 866.93 524.12 868.21 526.83 869.53 529.96 870.69 532.95 871.83 536.15 874.16 543.38 884.43 579.34 885.69 583.56 886.79 586.99 888.23 590.94 888.80 592.24 889.37 593.33 889.83 594.00 890.38 594.53 891.01 594.85 891.52 594.91 892.03 594.80 892.68 594.44 893.40 593.75 894.01 592.93 894.96 591.37 896.31 588.91 897.70 586.25 898.74 584.09 899.77 581.70 900.94 578.72 905.55 565.92 907.72 560.33 910.95 553.02 915.06 543.24 920.71 530.87 922.61 526.91 924.10 524.07 925.57 521.46 927.11 518.89 928.74 516.37 930.23 514.23 931.68 512.32 933.21 510.48 934.71 508.86 936.45 507.21 938.31 505.70 940.29 504.35 942.22 503.28 944.24 502.41 946.33 501.75 948.49 501.31 950.48 501.15 952.88 501.18 955.47 501.37 957.65 501.68 960.19 502.22 963.47 503.11 967.87 504.47 973.94 506.49 976.95 507.58 978.77 508.40 980.51 509.39 982.33 510.62 984.22 512.10 986.18 513.81 988.33 515.89 990.26 517.93 992.07 520.06 993.54 521.96 995.04 524.08 996.45 526.26 997.99 528.84 999.63 531.82 1001.38 535.19 1002.87 538.25 1004.19 541.16 1006.00 545.61 1007.66 550.32 1009.32 555.67 1010.91 561.46 1013.07 570.19 1015.33 580.14 1016.90 587.58 1020.18 604.05 1021.70 610.92 1022.05 612.35 1022.39 613.29 1022.75 613.84 1022.95 613.99 1023.17 614.06 1023.39 614.03 1023.61 613.90 1024.10 613.23 1024.49 612.29 1024.96 610.69 1026.69 603.26 1030.77 584.50 1031.89 579.83 1032.93 575.97 1034.16 571.96 1035.75 567.22 1038.07 560.61 1039.64 556.50 1041.02 553.39 1042.43 550.75 1044.06 548.23 1045.89 545.85 1047.89 543.61 1049.79 541.85 1051.73 540.44 1052.77 539.83 1053.84 539.30 1055.52 538.65 1057.25 538.14 1059.40 537.68 1061.57 537.35 1063.76 537.14 1065.96 537.07 1067.96 537.12 1069.95 537.33 1071.92 537.67 1073.86 538.14 1079.19 539.84 1081.31 540.44 1087.96 541.86 1090.49 542.47 1093.18 543.25 1100.62 545.58 1102.94 546.21 1105.47 546.81 1109.98 547.67 1115.33 548.45 1120.10 548.95 1124.30 549.16 1127.70 549.14 1131.09 548.96 1134.67 548.61 1138.24 548.12 1144.73 546.92 1156.46 544.38 1161.75 543.30 1166.67 542.40 1170.43 541.86 1174.41 541.50 1178.01 541.40 1181.00 541.60 1183.96 542.09 1186.29 542.65 1188.79 543.37 1191.26 544.19 1194.06 545.25 1199.03 547.37 1210.47 552.65 1215.59 554.91 1221.53 557.31 1227.17 559.34 1232.13 560.91 1236.76 562.16 1240.66 563.05 1249.86 564.98 1254.33 566.07 1259.14 567.45 1263.88 569.04 1268.17 570.69 1272.19 572.47 1275.75 574.29 1279.19 576.33 1281.36 577.77 1283.46 579.31 1285.49 580.93 1287.44 582.64 1289.33 584.43 1291.15 586.29 1293.02 588.37 1294.81 590.52 1296.65 592.89 1298.40 595.33 1300.07 597.82 1301.77 600.53 1304.57 605.38 1311.44 618.04 1313.37 621.31 1315.02 623.82 1316.08 625.27 1317.10 626.51 1318.05 627.54 1318.95 628.35 1319.76 628.94 1320.64 629.40 1321.39 629.65 1322.16 629.76 1322.95 629.72 1323.91 629.49 1324.81 629.07 1325.64 628.51 1326.54 627.71 1327.34 626.81 1328.18 625.69 1328.94 624.52 1330.31 622.07 1331.82 619.03 1337.92 605.54 1341.41 598.12 1344.09 592.75 1346.71 587.80 1349.99 582.08 1353.20 577.01 1356.44 572.44 1358.04 570.39 1359.71 568.40 1361.45 566.47 1363.40 564.45 1365.42 562.52 1367.50 560.65 1369.95 558.59 1372.46 556.60 1374.87 554.81 1377.33 553.10 1379.69 551.59 1381.92 550.26 1384.38 548.92 1386.71 547.76 1389.08 546.69 1391.49 545.71 1393.74 544.90 1396.22 544.11" stroke="#000" stroke-width="2.1" stroke-linejoin="round" fill="none"/>
<rect x="780.05" y="483.85" width="616.75" height="351.05" stroke="#000" stroke-width="2" fill="none"/>
<text transform="translate(767.65 488.45) scale(1.040 1)" font-family="'Liberation Sans', sans-serif" font-size="15.20" text-anchor="end" stroke="#000" stroke-width="0.3">0</text>
<text transform="translate(767.65 558.66) scale(1.040 1)" font-family="'Liberation Sans', sans-serif" font-size="15.20" text-anchor="end" stroke="#000" stroke-width="0.3">-10</text>
<text transform="translate(767.65 628.87) scale(1.040 1)" font-family="'Liberation Sans', sans-serif" font-size="15.20" text-anchor="end" stroke="#000" stroke-width="0.3">-20</text>
<text transform="translate(767.65 699.08) scale(1.040 1)" font-family="'Liberation Sans', sans-serif" font-size="15.20" text-anchor="end" stroke="#000" stroke-width="0.3">-30</text>
<text transform="translate(767.65 769.29) scale(1.040 1)" font-family="'Liberation Sans', sans-serif" font-size="15.20" text-anchor="end" stroke="#000" stroke-width="0.3">-40</text>
<text transform="translate(767.65 839.50) scale(1.040 1)" font-family="'Liberation Sans', sans-serif" font-size="15.20" text-anchor="end" stroke="#000" stroke-width="0.3">-50</text>
<text transform="translate(780.05 859.50) scale(1.040 1)" font-family="'Liberation Sans', sans-serif" font-size="15.20" text-anchor="middle" stroke="#000" stroke-width="0.3">2.0</text>
<text transform="translate(898.66 859.50) scale(1.040 1)" font-family="'Liberation Sans', sans-serif" font-size="15.20" text-anchor="middle" stroke="#000" stroke-width="0.3">2.5</text>
<text transform="translate(1017.26 859.50) scale(1.040 1)" font-family="'Liberation Sans', sans-serif" font-size="15.20" text-anchor="middle" stroke="#000" stroke-width="0.3">3.0</text>
<text transform="translate(1135.87 859.50) scale(1.040 1)" font-family="'Liberation Sans', sans-serif" font-size="15.20" text-anchor="middle" stroke="#000" stroke-width="0.3">3.5</text>
<text transform="translate(1254.47 859.50) scale(1.040 1)" font-family="'Liberation Sans', sans-serif" font-size="15.20" text-anchor="middle" stroke="#000" stroke-width="0.3">4.0</text>
<text transform="translate(1373.08 859.50) scale(1.040 1)" font-family="'Liberation Sans', sans-serif" font-size="15.20" text-anchor="middle" stroke="#000" stroke-width="0.3">4.5</text>
<text transform="translate(1081.70 882.00)" font-family="'Liberation Sans', sans-serif" font-size="19.30" text-anchor="middle" stroke="#000" stroke-width="0.3">Frequency[GHz]</text>
<text transform="translate(738.05 668.98) rotate(-90)" font-family="'Liberation Sans', sans-serif" font-size="19.60" text-anchor="middle" stroke="#000" stroke-width="0.3">S11[dB]</text>
<text transform="translate(1065.00 918.60)" font-family="'Liberation Serif', serif" font-size="23.00" text-anchor="middle">(d)</text>
<rect x="1140.3" y="771.6" width="220.6" height="47.6" fill="#fff" stroke="#808080" stroke-width="1.1"/>
<path d="M1150.1 784.0H1192.9" stroke="#000" stroke-width="2" fill="none"/>
<path d="M1150.3 807.8h.5M1160.9 807.8h.5M1171.4 807.8h.5M1182.0 807.8h.5M1192.5 807.8h.5" stroke="#111" stroke-width="1.8" stroke-linecap="round" fill="none"/>
<text transform="translate(1198.80 790.50)" font-family="'Liberation Sans', sans-serif" font-size="19.20" text-anchor="start" stroke="#000" stroke-width="0.3">Case 4, simulated</text>
<text transform="translate(1198.80 815.00)" font-family="'Liberation Sans', sans-serif" font-size="19.20" text-anchor="start" stroke="#000" stroke-width="0.3">Case 4, measured</text>
</g>
</svg></body></html>
